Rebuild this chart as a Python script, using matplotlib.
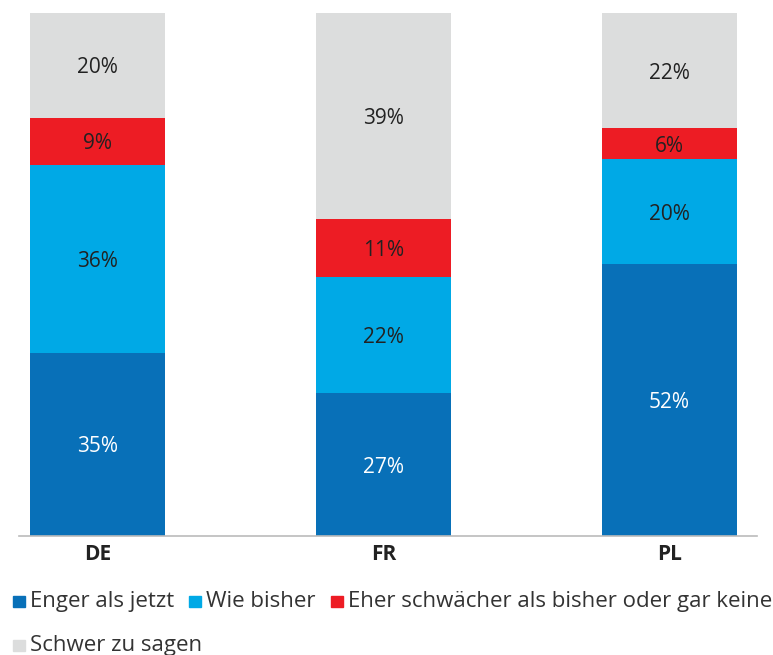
import numpy as np
import matplotlib.pyplot as plt
from matplotlib.patches import Rectangle

countries = ['DE', 'FR', 'PL']
series = ['Enger als jetzt', 'Wie bisher', 'Eher schwächer als bisher oder gar keine', 'Schwer zu sagen']
enger = [35, 27, 52]
wie_bisher = [36, 22, 20]
schwaecher = [9, 11, 6]
schwer = [20, 39, 22]

colors = ['#0870B8', '#00A9E6', '#ED1C24', '#DCDDDD']
text_colors = ['white', '#222222', '#222222', '#222222']

plt.rcParams['font.family'] = ['Open Sans', 'DejaVu Sans']

W, H = 773, 655
fig = plt.figure(figsize=(W / 100, H / 100), dpi=100)
ax = fig.add_axes([19 / W, (H - 536) / H, (757 - 19) / W, (536 - 13) / H])

data = np.array([enger, wie_bisher, schwaecher, schwer], dtype=float)
# 100% stacked: each bar filled to the top
shares = data / data.sum(axis=0) * 100
x = np.arange(len(countries))
bottom = np.zeros(len(countries))
for i, name in enumerate(series):
    ax.bar(x, shares[i], bottom=bottom, width=0.472, color=colors[i], label=name)
    for j in range(len(countries)):
        ax.text(x[j], bottom[j] + shares[i][j] / 2, f'{int(data[i][j])}%',
                ha='center', va='center_baseline', fontsize=15, color=text_colors[i])
    bottom += shares[i]

ax.set_xlim(-0.2745, 2.306)
ax.set_ylim(0, 100)
for s in ['top', 'right', 'left']:
    ax.spines[s].set_visible(False)
ax.spines['bottom'].set_color('#BBBBBB')
ax.spines['bottom'].set_linewidth(1.2)
ax.set_yticks([])
ax.set_xticks(x)
ax.set_xticklabels(countries, fontsize=15, fontweight='bold', color='#222222')
ax.tick_params(axis='x', length=0, pad=6)

# legend laid out like flowing text
fig.canvas.draw()
renderer = fig.canvas.get_renderer()
rows = [[0, 1, 2], [3]]
row_base = [607, 651]
for r, items in enumerate(rows):
    px = 13
    yb = H - row_base[r]
    for i in items:
        fig.patches.append(Rectangle((px / W, yb / H), 12 / W, 11 / H,
                                     transform=fig.transFigure, color=colors[i]))
        t = fig.text((px + 17) / W, yb / H, series[i], fontsize=16,
                     color='#333333', va='baseline', ha='left')
        bb = t.get_window_extent(renderer)
        px = bb.x1 + 15

fig.savefig('out.png', dpi=100)
